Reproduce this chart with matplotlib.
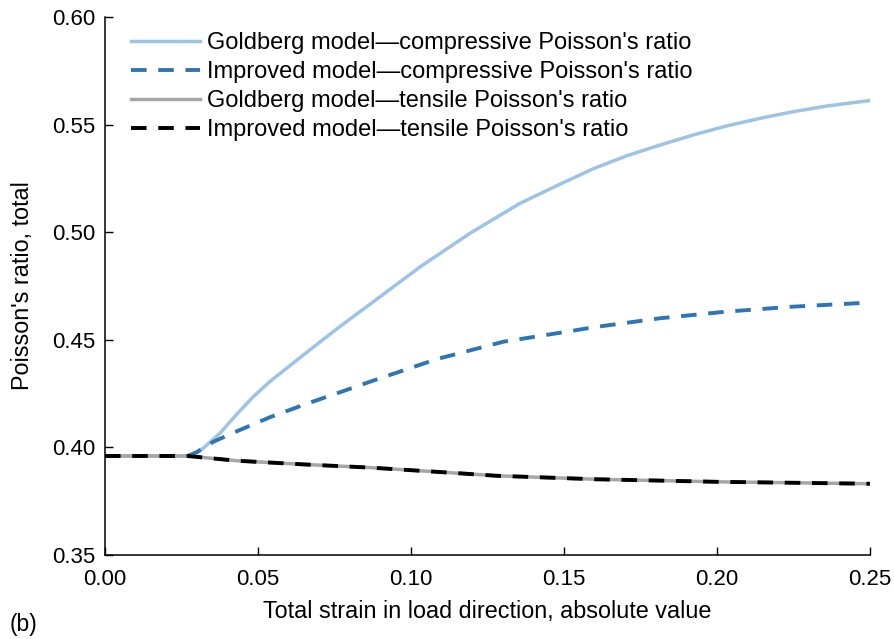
import matplotlib
matplotlib.use("Agg")
import matplotlib.pyplot as plt

plt.rcParams['font.family'] = ['Liberation Sans', 'DejaVu Sans']

# Goldberg model - compressive
x_gc = [0.0, 0.010, 0.020, 0.027, 0.0295, 0.0321, 0.0376, 0.0430, 0.0485, 0.0539, 0.0648, 0.0703,
        0.0757, 0.0866, 0.1029, 0.1193, 0.1356, 0.1487, 0.1596, 0.1705, 0.1814, 0.1923, 0.2032,
        0.2141, 0.2249, 0.2358, 0.25]
y_gc = [0.396, 0.396, 0.396, 0.396, 0.3970, 0.3996, 0.4066, 0.4153, 0.4236, 0.4306, 0.4429, 0.4490,
        0.4550, 0.4665, 0.4838, 0.4995, 0.5134, 0.5223, 0.5295, 0.5355, 0.5405, 0.5452, 0.5494,
        0.5529, 0.5560, 0.5586, 0.5612]

# Improved model - compressive
x_ic = [0.0, 0.010, 0.020, 0.027, 0.030, 0.0354, 0.0441, 0.0539, 0.0648, 0.0790, 0.0866, 0.1084,
        0.1302, 0.1520, 0.1596, 0.1814, 0.2032, 0.2249, 0.25]
y_ic = [0.396, 0.396, 0.396, 0.396, 0.3978, 0.4026, 0.4081, 0.4140, 0.4197, 0.4267, 0.4305, 0.4410,
        0.4491, 0.4540, 0.4558, 0.4600, 0.4631, 0.4654, 0.4673]

# Goldberg model - tensile
x_gt = [0.0, 0.010, 0.020, 0.027, 0.043, 0.0648, 0.0866, 0.1100, 0.1280, 0.1600, 0.2000, 0.25]
y_gt = [0.396, 0.396, 0.396, 0.396, 0.3938, 0.3921, 0.3906, 0.3885, 0.3868, 0.3852, 0.3840, 0.3831]

# Improved model - tensile
x_it = [0.0, 0.010, 0.020, 0.027, 0.043, 0.0648, 0.0866, 0.1100, 0.1280, 0.1600, 0.2000, 0.25]
y_it = [0.396, 0.396, 0.396, 0.396, 0.3938, 0.3921, 0.3906, 0.3885, 0.3868, 0.3852, 0.3840, 0.3831]

labels = ["Goldberg model\u2014compressive Poisson's ratio",
          "Improved model\u2014compressive Poisson's ratio",
          "Goldberg model\u2014tensile Poisson's ratio",
          "Improved model\u2014tensile Poisson's ratio"]

xticks = [0.00, 0.05, 0.10, 0.15, 0.20, 0.25]
yticks = [0.35, 0.40, 0.45, 0.50, 0.55, 0.60]

fig = plt.figure(figsize=(8.95, 6.39), dpi=100)
ax = fig.add_axes([0.1173, 0.1315, 0.8547, 0.8419])

ax.plot(x_gc, y_gc, color='#9DC3E6', lw=2.5, label=labels[0])
ax.plot(x_ic, y_ic, color='#2E75B6', lw=2.8, ls=(0, (4.0, 3.0)), label=labels[1])
ax.plot(x_gt, y_gt, color='#A6A6A6', lw=2.5, label=labels[2])
ax.plot(x_it, y_it, color='black', lw=2.8, ls=(0, (4.0, 3.0)), label=labels[3])

ax.set_xlim(0, 0.25)
ax.set_ylim(0.35, 0.60)
ax.set_xticks(xticks)
ax.set_yticks(yticks)
ax.set_xticklabels([f"{v:.2f}" for v in xticks])
ax.set_yticklabels([f"{v:.2f}" for v in yticks])
ax.tick_params(direction='in', length=6, width=1, labelsize=16)
ax.tick_params(axis='x', pad=10)
ax.tick_params(axis='y', pad=7)
for s in ['top', 'right']:
    ax.spines[s].set_visible(False)
for s in ['left', 'bottom']:
    ax.spines[s].set_linewidth(1.1)

ax.set_xlabel("Total strain in load direction, absolute value", fontsize=16.8, labelpad=7)
ax.set_ylabel("Poisson's ratio, total", fontsize=16.8, labelpad=13)

leg = ax.legend(loc='upper left', bbox_to_anchor=(0.012, 1.003), frameon=False, fontsize=17,
                handlelength=2.95, handletextpad=0.3, labelspacing=0.3, borderaxespad=0.3)

fig.text(0.011, 0.004, "(b)", fontsize=16.5, ha='left', va='bottom')

fig.savefig("out.png", dpi=100)
